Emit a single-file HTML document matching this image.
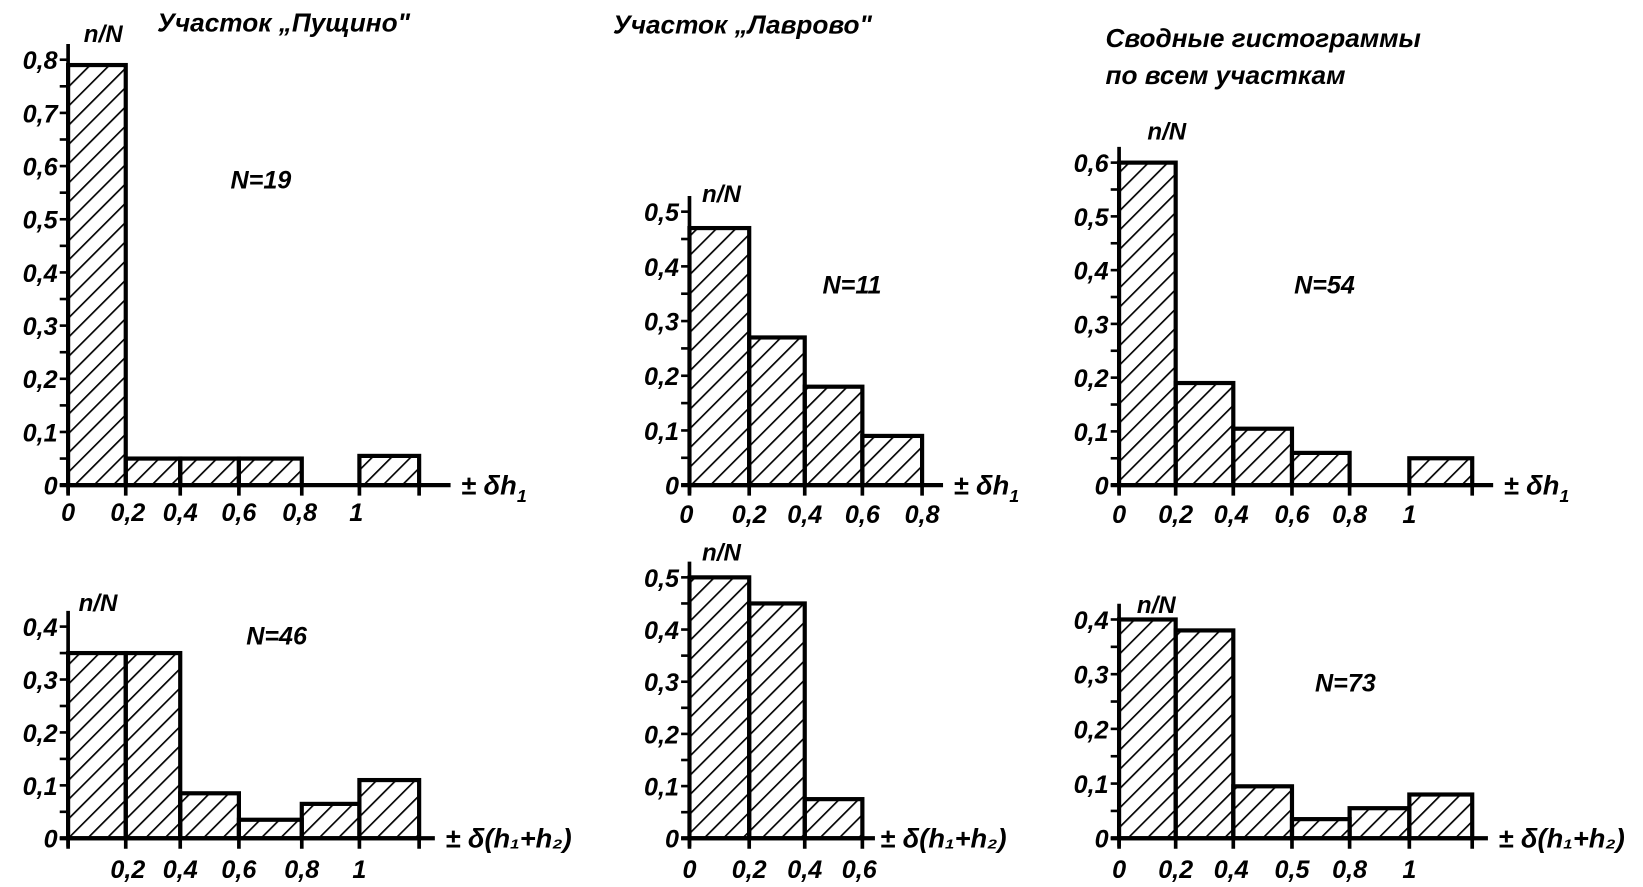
<!DOCTYPE html>
<html><head><meta charset="utf-8">
<style>
html,body{margin:0;padding:0;background:#fff;}
svg{display:block;}
text{font-family:"Liberation Sans","DejaVu Sans",sans-serif;font-style:italic;font-weight:bold;fill:#000;}
</style></head>
<body>
<svg id="s" width="1643" height="887" viewBox="0 0 1568 846.5" preserveAspectRatio="none" xmlns="http://www.w3.org/2000/svg">
<defs>
<pattern id="h" patternUnits="userSpaceOnUse" width="13" height="13" patternTransform="rotate(45)">
<line x1="0" y1="0" x2="0" y2="13" stroke="#000" stroke-width="3.2"/>
</pattern>
</defs>
<g id="g"></g>
<text x="150" y="30" font-size="25">Участок „Пущино"</text>
<text x="585" y="32" font-size="25">Участок „Лаврово"</text>
<text x="1055" y="45" font-size="25">Сводные гистограммы</text>
<text x="1055" y="80" font-size="25">по всем участкам</text>
</svg>
<script>
var P=[
{ox:65,by:463,u:50.75,ymax:8,xs:[65,120,172,228,288,343,400],bars:[[0,.79],[1,.05],[2,.05],[3,.05],[5,.055]],xl:[["0",65],["0,2",122],["0,4",172],["0,6",228],["0,8",286],["1",340]],xlY:497,axEnd:430,lab:"± δh",sub:"1",labX:440,nn:[80,40],N:["N=19",220,180]},
{ox:65,by:800,u:50.5,ymax:4,xs:[65,120,172,228,288,343,400],bars:[[0,.35],[1,.35],[2,.085],[3,.035],[4,.065],[5,.11]],xl:[["0,2",122],["0,4",172],["0,6",228],["0,8",288],["1",343]],xlY:838,axEnd:415,lab:"± δ(h₁+h₂)",labX:425,nn:[75,583],N:["N=46",235,615]},
{ox:658,by:463,u:52.2,ymax:5,xs:[658,715,768,823,880],bars:[[0,.47],[1,.27],[2,.18],[3,.09]],xl:[["0",655],["0,2",715],["0,4",768],["0,6",823],["0,8",880]],xlY:499,axEnd:900,lab:"± δh",sub:"1",labX:910,nn:[670,193],N:["N=11",785,280]},
{ox:658,by:800,u:49.8,ymax:5,xs:[658,715,768,823],bars:[[0,.5],[1,.45],[2,.075]],xl:[["0",658],["0,2",715],["0,4",768],["0,6",820]],xlY:838,axEnd:835,lab:"± δ(h₁+h₂)",labX:840,nn:[670,535],N:["",0,0]},
{ox:1068,by:463,u:51.3,ymax:6,xs:[1068,1122,1177,1233,1288,1345,1405],bars:[[0,.6],[1,.19],[2,.105],[3,.06],[5,.05]],xl:[["0",1068],["0,2",1122],["0,4",1175],["0,6",1233],["0,8",1288],["1",1345]],xlY:499,axEnd:1425,lab:"± δh",sub:"1",labX:1435,nn:[1095,133],N:["N=54",1235,280]},
{ox:1068,by:800,u:52.2,ymax:4,xs:[1068,1122,1177,1233,1288,1345,1405],bars:[[0,.4],[1,.38],[2,.095],[3,.035],[4,.055],[5,.08]],xl:[["0",1068],["0,2",1122],["0,4",1175],["0,5",1233],["0,8",1288],["1",1345]],xlY:838,axEnd:1420,lab:"± δ(h₁+h₂)",labX:1430,nn:[1085,585],N:["N=73",1255,660]}
];
var o="";
P.forEach(function(p){
 var top=p.by-p.ymax*p.u-15;
 o+='<line x1="'+p.ox+'" y1="'+top+'" x2="'+p.ox+'" y2="'+(p.by+8)+'" stroke="#000" stroke-width="3.5"/>';
 o+='<line x1="'+(p.ox-8)+'" y1="'+p.by+'" x2="'+p.axEnd+'" y2="'+p.by+'" stroke="#000" stroke-width="4"/>';
 for(var i=0;i<=p.ymax;i++){
  var y=p.by-i*p.u;
  o+='<line x1="'+(p.ox-8)+'" y1="'+y+'" x2="'+p.ox+'" y2="'+y+'" stroke="#000" stroke-width="2.5"/>';
  if(i<p.ymax){var y2=y-p.u/2;o+='<line x1="'+(p.ox-8)+'" y1="'+y2+'" x2="'+p.ox+'" y2="'+y2+'" stroke="#000" stroke-width="2.5"/>';}
  var t=i==0?"0":"0,"+i;
  o+='<text x="'+(p.ox-10)+'" y="'+(y+9)+'" font-size="24" text-anchor="end">'+t+'</text>';
 }
 p.bars.forEach(function(b){
  var x1=p.xs[b[0]],x2=p.xs[b[0]+1],h=b[1]*10*p.u;
  o+='<rect x="'+x1+'" y="'+(p.by-h)+'" width="'+(x2-x1)+'" height="'+h+'" fill="url(#h)" stroke="#000" stroke-width="4"/>';
 });
 p.xs.forEach(function(x){o+='<line x1="'+x+'" y1="'+p.by+'" x2="'+x+'" y2="'+(p.by+10)+'" stroke="#000" stroke-width="3.5"/>';});
 p.xl.forEach(function(l){o+='<text x="'+l[1]+'" y="'+p.xlY+'" font-size="24" text-anchor="middle">'+l[0]+'</text>';});
 o+='<text x="'+p.labX+'" y="'+(p.by+9)+'" font-size="26">'+p.lab+(p.sub?'<tspan font-size="17" dy="7">'+p.sub+'</tspan>':'')+'</text>';
 o+='<text x="'+p.nn[0]+'" y="'+p.nn[1]+'" font-size="23">n/N</text>';
 if(p.N[0])o+='<text x="'+p.N[1]+'" y="'+p.N[2]+'" font-size="24">'+p.N[0]+'</text>';
});
document.getElementById("g").innerHTML=o;
</script>
</body></html>
